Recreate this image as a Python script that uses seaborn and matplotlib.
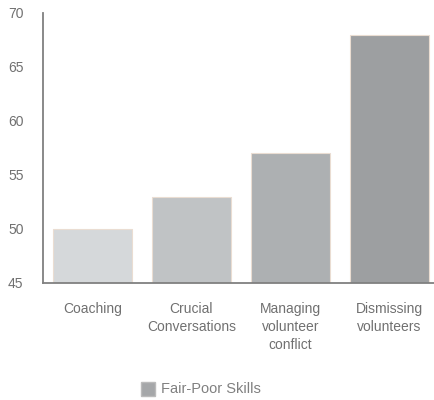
import matplotlib
matplotlib.use("Agg")
import matplotlib.pyplot as plt
import seaborn as sns
import pandas as pd
from matplotlib.patches import Patch

categories = ["Coaching", "Crucial\nConversations", "Managing\nvolunteer\nconflict", "Dismissing\nvolunteers"]
values = [50, 53, 57, 68]
colors = ["#d5d8da", "#c0c3c5", "#adb0b2", "#9d9fa1"]
series_name = "Fair-Poor Skills"
yticks = [45, 50, 55, 60, 65, 70]

sns.set_theme(style="white")
plt.rcParams['font.family'] = ['Liberation Sans', 'DejaVu Sans']

df = pd.DataFrame({"cat": categories, "val": values})

fig = plt.figure(figsize=(4.35, 4.0), dpi=100)
ax = fig.add_axes([43/435, 1 - 283/400, (435 - 43)/435, (283 - 13)/400])

sns.barplot(data=df, x="cat", y="val", hue="cat", palette=colors, legend=False,
            width=0.8, ax=ax, edgecolor="#eaddd2", linewidth=0.8, saturation=1)

ax.set_ylim(45, 70)
ax.set_xlim(-0.5, 3.46)
ax.set_yticks(yticks)
ax.set_xlabel("")
ax.set_ylabel("")
for s in ["top", "right"]:
    ax.spines[s].set_visible(False)
for s in ["left", "bottom"]:
    ax.spines[s].set_color("#808080")
    ax.spines[s].set_linewidth(1.3)
ax.tick_params(axis="both", length=0, colors="#707070", labelsize=10)
ax.tick_params(axis="y", pad=14)
ax.tick_params(axis="x", pad=14)
for t in ax.get_xticklabels():
    t.set_linespacing(1.35)

handle = Patch(facecolor="#a5a7a9", edgecolor="#bbbbbb", label=series_name)
fig.legend(handles=[handle], loc="center", bbox_to_anchor=(201/435, 1 - 389/400),
           frameon=False, fontsize=10.5, labelcolor="#808080", handlelength=1.0,
           handleheight=1.1, handletextpad=0.4)

fig.savefig("out.png", dpi=100)
